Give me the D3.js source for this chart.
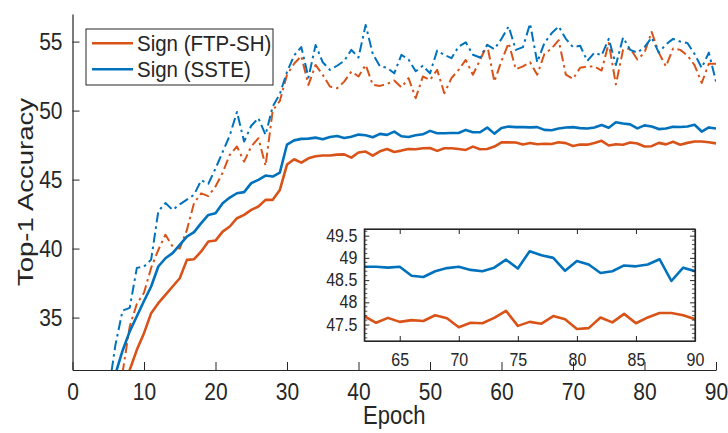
<!DOCTYPE html>
<html>
<head>
<meta charset="utf-8">
<script src="https://cdn.jsdelivr.net/npm/d3@7"></script>
<style>
    body { margin: 0; background: #fff; }
    svg { display: block; font-family: "Liberation Sans", Arial, Helvetica, sans-serif; }
</style>
</head>
<body>
<svg id="grafico" width="728" height="433"></svg>
<script>
// Top-1 accuracy per epoch (epochs 1..90)
var orangeSolid = [12, 17, 21, 24, 26.5, 28.3, 29.8, 31.2, 32.66, 33.87,
    35.32, 36.04, 36.65, 37.25, 37.85, 39.18, 39.23, 39.79, 40.51, 40.58,
    41.23, 41.6, 42.2, 42.44, 42.8, 43.05, 43.53, 43.53, 44.25, 46.09,
    46.47, 46.23, 46.54, 46.69, 46.74, 46.74, 46.81, 46.83, 46.59, 46.96,
    47.03, 46.74, 47.05, 47.22, 47.0, 47.1, 47.22, 47.2, 47.27, 47.29,
    47.08, 47.27, 47.27, 47.22, 47.15, 47.39, 47.2, 47.22, 47.39, 47.7,
    47.7, 47.69, 47.54, 47.65, 47.56, 47.6, 47.58, 47.71, 47.64, 47.44,
    47.54, 47.53, 47.65, 47.81, 47.47, 47.56, 47.52, 47.69, 47.62, 47.4,
    47.42, 47.66, 47.55, 47.74, 47.53, 47.66, 47.76, 47.76, 47.71, 47.62];

var blueSolid = [17, 22, 25.5, 27.8, 29.4, 30.9, 32.6, 34.0, 35.1, 36.2,
    37.25, 38.7, 39.3, 39.67, 40.27, 40.87, 41.19, 41.84, 42.44, 42.56,
    43.29, 43.7, 44.01, 44.09, 44.74, 44.98, 45.29, 45.22, 45.51, 47.54,
    47.84, 47.95, 47.97, 48.04, 47.92, 48.09, 48.16, 48.02, 48.11, 48.26,
    48.21, 48.07, 48.31, 48.24, 48.48, 48.14, 48.09, 48.21, 48.28, 48.53,
    48.36, 48.36, 48.38, 48.38, 48.6, 48.43, 48.43, 48.77, 48.33, 48.74,
    48.84, 48.8, 48.8, 48.78, 48.8, 48.6, 48.57, 48.7, 48.77, 48.8,
    48.73, 48.7, 48.78, 48.96, 48.76, 49.15, 49.06, 49.0, 48.71, 48.93,
    48.85, 48.66, 48.7, 48.83, 48.81, 48.85, 48.97, 48.48, 48.78, 48.7];

var orangeDash = [12, 17, 22, 26, 28.5, 30, 31.0, 34.35, 36.0, 36.8,
    38.6, 39.9, 41.0, 40.15, 40.0, 41.35, 43.3, 44.0, 43.8, 44.5,
    45.5, 46.8, 47.4, 46.3, 47.4, 48.0, 46.0, 50.0, 50.7, 52.6,
    53.4, 53.95, 51.86, 53.31, 52.59, 51.74, 51.62, 52.1, 52.83, 52.47,
    53.31, 51.86, 51.79, 51.93, 52.18, 51.69, 52.35, 50.9, 52.47, 52.22,
    52.95, 51.26, 52.35, 52.95, 53.67, 52.6, 53.67, 54.76, 52.1, 53.6,
    54.9, 53.0, 53.2, 53.5, 52.6, 54.1, 54.5, 55.1, 52.6, 52.3,
    53.1, 53.2, 53.2, 52.9, 54.9, 51.9, 54.4, 54.5, 53.7, 54.2,
    55.7, 54.2, 53.2, 54.5, 54.4, 54.0, 53.3, 52.0, 53.4, 53.4];

var blueDash = [15, 20, 24, 27, 29.5, 33.0, 35.5, 35.7, 38.6, 38.7,
    39.2, 42.7, 43.3, 42.8, 43.2, 43.55, 43.9, 44.95, 44.7, 45.8,
    47.0, 48.2, 49.9, 47.75, 48.9, 49.45, 48.24, 50.3, 51.2, 52.8,
    54.0, 54.6, 52.4, 54.75, 53.5, 52.95, 53.25, 53.6, 54.4, 53.85,
    56.2, 54.1, 53.2, 53.1, 52.7, 54.04, 53.7, 52.85, 53.25, 52.7,
    54.35, 54.04, 53.8, 54.64, 54.95, 54.05, 53.85, 54.76, 54.45, 55.2,
    56.1, 54.4, 54.6, 56.3, 53.5, 54.9, 55.6, 56.1, 55.2, 54.6,
    54.7, 53.6, 54.2, 54.0, 55.2, 53.3, 55.3, 54.4, 54.2, 54.6,
    55.3, 54.2, 54.8, 55.2, 55.0, 54.9, 54.1, 53.1, 54.2, 52.1];

var legendLabels = ["Sign (FTP-SH)", "Sign (SSTE)"];
var xTicks = [0, 10, 20, 30, 40, 50, 60, 70, 80, 90];
var yTicks = [35, 40, 45, 50, 55];
var insetXTicks = [65, 70, 75, 80, 85, 90];
var insetYTicks = [47.5, 48, 48.5, 49, 49.5];
var insetYMinor = [47.2, 47.3, 47.4, 47.6, 47.7, 47.8, 47.9, 48.1, 48.2, 48.3, 48.4,
    48.6, 48.7, 48.8, 48.9, 49.1, 49.2, 49.3, 49.4, 49.6];

var NARANJA = "#D95319", AZUL = "#0072BD", GRIS = "#262626";
var DASHDOT = "10,4,2.5,4";

function toPoints(values) {
    return values.map(function (v, i) { return { epoch: i + 1, value: v }; });
}

// the original figure was stretched vertically, text included
function stretch(sel, k) {
    sel.each(function () {
        var t = d3.select(this);
        var yy = +t.attr("y") || 0;
        t.attr("y", yy / k).attr("transform", "scale(1," + k + ")");
    });
}

function styleAxis(g, size, k) {
    g.select(".domain").attr("stroke", GRIS).attr("stroke-width", 1.2);
    g.selectAll(".tick line").attr("stroke", GRIS).attr("stroke-width", 1);
    g.selectAll(".tick text").attr("fill", GRIS).style("font-size", size + "px");
    stretch(g.selectAll(".tick text"), k);
}

function drawChart() {
    var svg = d3.select("#grafico");
    var defs = svg.append("defs");

    // main axes
    var mLeft = 72.5, mRight = 716, mTop = 14, mBottom = 370;
    var x = d3.scaleLinear().domain([0, 90]).range([mLeft, mRight]);
    var y = d3.scaleLinear().domain([31.2, 57]).range([mBottom, mTop]);

    defs.append("clipPath").attr("id", "clip-main")
        .append("rect")
        .attr("x", mLeft).attr("y", mTop)
        .attr("width", mRight - mLeft).attr("height", mBottom - mTop);

    var line = d3.line()
        .x(function (d) { return x(d.epoch); })
        .y(function (d) { return y(d.value); });

    var plot = svg.append("g").attr("clip-path", "url(#clip-main)");

    var series = [
        { values: orangeDash, color: NARANJA, width: 2, dash: DASHDOT },
        { values: blueDash, color: AZUL, width: 2, dash: DASHDOT },
        { values: orangeSolid, color: NARANJA, width: 2.6, dash: null },
        { values: blueSolid, color: AZUL, width: 2.6, dash: null }
    ];

    for (var s of series) {
        plot.append("path")
            .datum(toPoints(s.values))
            .attr("fill", "none")
            .attr("stroke", s.color)
            .attr("stroke-width", s.width)
            .attr("stroke-linejoin", "round")
            .attr("stroke-dasharray", s.dash)
            .attr("d", line);
    }

    var xAxis = svg.append("g")
        .attr("transform", "translate(0," + mBottom + ")")
        .call(d3.axisBottom(x).tickValues(xTicks).tickSize(-8).tickSizeOuter(0).tickPadding(13));
    styleAxis(xAxis, 21, 1.12);

    var yAxis = svg.append("g")
        .attr("transform", "translate(" + mLeft + ",0)")
        .call(d3.axisLeft(y).tickValues(yTicks).tickSize(-7).tickSizeOuter(0).tickPadding(10));
    styleAxis(yAxis, 21, 1.12);

    var xLabel = svg.append("text")
        .attr("x", (mLeft + mRight) / 2)
        .attr("y", 424)
        .attr("text-anchor", "middle")
        .attr("fill", GRIS)
        .style("font-size", "22px")
        .text("Epoch");
    stretch(xLabel, 1.14);

    svg.append("text")
        .attr("transform", "translate(33," + ((mTop + mBottom) / 2) + ") rotate(-90) scale(1.25,1)")
        .attr("text-anchor", "middle")
        .attr("fill", GRIS)
        .style("font-size", "22px")
        .text("Top-1 Accuracy");

    // legend
    var legend = svg.append("g");
    legend.append("rect")
        .attr("x", 86).attr("y", 29).attr("width", 187).attr("height", 56)
        .attr("fill", "#fff").attr("stroke", GRIS).attr("stroke-width", 1);
    [NARANJA, AZUL].forEach(function (c, i) {
        var yy = 43.3 + i * 26;
        legend.append("line")
            .attr("x1", 92).attr("x2", 133).attr("y1", yy).attr("y2", yy)
            .attr("stroke", c).attr("stroke-width", 2.6);
        var t = legend.append("text")
            .attr("x", 137).attr("y", yy + 8)
            .attr("fill", GRIS)
            .style("font-size", "20.5px")
            .text(legendLabels[i]);
        stretch(t, 1.1);
    });

    // inset
    var iLeft = 364.3, iRight = 695, iTop = 229, iBottom = 341;
    var ix = d3.scaleLinear().domain([62, 90]).range([iLeft, iRight]);
    var iy = d3.scaleLinear().domain([47.13, 49.65]).range([iBottom, iTop]);

    var inset = svg.append("g");
    inset.append("rect")
        .attr("x", iLeft).attr("y", iTop)
        .attr("width", iRight - iLeft).attr("height", iBottom - iTop)
        .attr("fill", "#fff");

    defs.append("clipPath").attr("id", "clip-inset")
        .append("rect")
        .attr("x", iLeft).attr("y", iTop)
        .attr("width", iRight - iLeft).attr("height", iBottom - iTop);

    var iline = d3.line()
        .x(function (d) { return ix(d.epoch); })
        .y(function (d) { return iy(d.value); });

    var insetPlot = inset.append("g").attr("clip-path", "url(#clip-inset)");
    [[orangeSolid, NARANJA], [blueSolid, AZUL]].forEach(function (p) {
        insetPlot.append("path")
            .datum(toPoints(p[0]).filter(function (d) { return d.epoch >= 62; }))
            .attr("fill", "none")
            .attr("stroke", p[1])
            .attr("stroke-width", 2.6)
            .attr("stroke-linejoin", "round")
            .attr("d", iline);
    });

    var fmt = d3.format("~g");

    var ixAxis = inset.append("g")
        .attr("transform", "translate(0," + iBottom + ")")
        .call(d3.axisBottom(ix).tickValues(insetXTicks).tickSize(-5).tickSizeOuter(0).tickPadding(13));
    styleAxis(ixAxis, 16, 1.1);

    var ixTop = inset.append("g")
        .attr("transform", "translate(0," + iTop + ")")
        .call(d3.axisTop(ix).tickValues(insetXTicks).tickSize(-5).tickSizeOuter(0).tickFormat(""));
    styleAxis(ixTop, 16, 1.1);

    var iyAxis = inset.append("g")
        .attr("transform", "translate(" + iLeft + ",0)")
        .call(d3.axisLeft(iy).tickValues(insetYTicks).tickFormat(fmt).tickSize(-5).tickSizeOuter(0).tickPadding(7));
    styleAxis(iyAxis, 16, 1.1);

    var iyRight = inset.append("g")
        .attr("transform", "translate(" + iRight + ",0)")
        .call(d3.axisRight(iy).tickValues(insetYTicks).tickSize(-5).tickSizeOuter(0).tickFormat(""));
    styleAxis(iyRight, 16, 1.1);

    // minor ticks of the inset
    [[iLeft, 3], [iRight, -3]].forEach(function (side) {
        inset.selectAll(null)
            .data(insetYMinor)
            .enter().append("line")
            .attr("x1", side[0]).attr("x2", side[0] + side[1])
            .attr("y1", function (d) { return iy(d); })
            .attr("y2", function (d) { return iy(d); })
            .attr("stroke", GRIS).attr("stroke-width", 0.8);
    });

    inset.append("rect")
        .attr("x", iLeft).attr("y", iTop)
        .attr("width", iRight - iLeft).attr("height", iBottom - iTop)
        .attr("fill", "none").attr("stroke", GRIS).attr("stroke-width", 1.2);
}

drawChart();
</script>
</body>
</html>
